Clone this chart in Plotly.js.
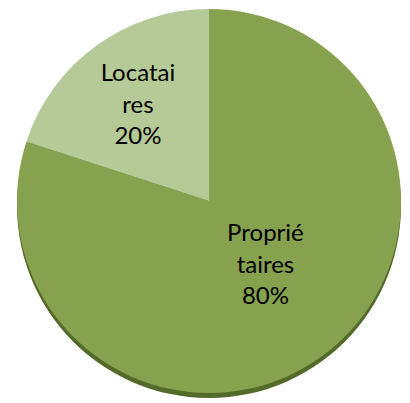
<!DOCTYPE html>
<html><head><meta charset="utf-8">
<script src="https://cdn.plot.ly/plotly-3.0.1.min.js"></script>
<style>html,body{margin:0;padding:0;background:#fff}#c{width:410px;height:403px}</style>
</head><body><div id="c"></div>
<script>
const labels = ["Propriétaires", "Locataires"];
const wrappedLabels = ["Proprié<br>taires", "Locatai<br>res"];
const values = [80, 20];
const colors = ["#86a24e", "#b6ca97"];

const W = 410, H = 403;
const dom = {x: [17 / W, 401 / W], y: [1 - 393 / H, 1 - 9 / H]};
const shadowDom = {x: dom.x, y: [dom.y[0] - 5 / H, dom.y[1] - 5 / H]};

const shadow = {
  type: "pie", labels: labels, values: values, sort: false, direction: "clockwise",
  domain: shadowDom, marker: {colors: ["#536a2a", "#536a2a"], line: {width: 0}},
  textinfo: "none", hoverinfo: "skip", showlegend: false
};
const pie = {
  type: "pie", labels: labels, values: values, sort: false, direction: "clockwise",
  domain: dom, text: wrappedLabels,
  texttemplate: ["%{text}<br>%{percent:.0%}<br>&nbsp;", "%{text}<br>%{percent:.0%}"],
  textposition: "inside", insidetextorientation: "horizontal",
  textfont: {family: "Lato, 'Open Sans', sans-serif", size: 24, color: "#000"},
  marker: {colors: colors, line: {width: 0}},
  showlegend: false, hoverinfo: "label+percent"
};
Plotly.newPlot("c", [shadow, pie], {
  width: W, height: H, margin: {l: 0, r: 0, t: 0, b: 0},
  paper_bgcolor: "#fff", showlegend: false,
  uniformtext: {minsize: 24, mode: "show"}
}, {staticPlot: true});
</script></body></html>
